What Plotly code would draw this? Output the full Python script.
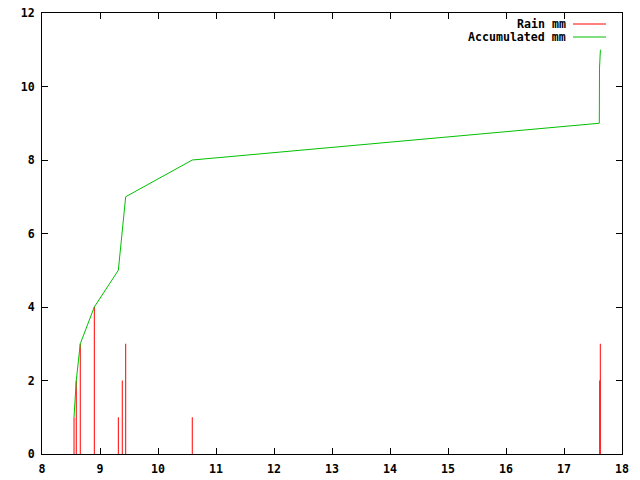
import plotly.graph_objects as go

# rain readings (impulses)
rain_hours = [8.552, 8.591, 8.660, 8.902, 9.316, 9.384, 9.443, 10.591, 17.616, 17.626]
rain_mm = [1, 2, 3, 4, 1, 2, 3, 1, 2, 3]

# accumulated rain
acc_hours = [8.552, 8.591, 8.660, 8.902, 9.316, 9.384, 9.443, 10.591, 17.609, 17.612, 17.628]
acc_mm = [1, 2, 3, 4, 5, 6, 7, 8, 9, 10.5, 11]

x_ticks = list(range(8, 19))
y_ticks = list(range(0, 13, 2))

# impulses: one vertical segment per reading
imp_x, imp_y = [], []
for h, v in zip(rain_hours, rain_mm):
    imp_x += [h, h, None]
    imp_y += [0, v, None]

fig = go.Figure()
fig.add_trace(go.Scatter(x=imp_x, y=imp_y, mode="lines", name="Rain mm",
                         line=dict(color="#ff0000", width=1), showlegend=False))
fig.add_trace(go.Scatter(x=acc_hours, y=acc_mm, mode="lines", name="Accumulated mm",
                         line=dict(color="#00c000", width=1), showlegend=False))

font = dict(family="DejaVu Sans Mono", size=11.6, color="black", weight="bold")
axis = dict(showgrid=False, zeroline=False, showline=True, mirror="allticks",
            linecolor="black", linewidth=1, ticks="inside", ticklen=6,
            tickcolor="black", tickfont=font, automargin=False)

fig.update_layout(
    width=640, height=480,
    margin=dict(l=42, r=18, t=13, b=26),
    plot_bgcolor="white", paper_bgcolor="white",
    xaxis=dict(range=[8, 18], tickvals=x_ticks, ticklabelstandoff=4, **axis),
    yaxis=dict(range=[0, 12], tickvals=y_ticks, ticklabelstandoff=4, **axis),
)

# gnuplot style key: text right-aligned, line sample on the right
names = ["Rain mm", "Accumulated mm"]
colors = ["#ff0000", "#00c000"]
for i, (n, c) in enumerate(zip(names, colors)):
    yk = 24 + 13 * i
    yp = 1 - (yk - 13) / 441
    fig.add_annotation(x=(567 - 42) / 580, y=yp, xref="paper", yref="paper",
                       text=n, showarrow=False, xanchor="right",
                       yanchor="middle", font=font, borderpad=0)
    fig.add_shape(type="line", xref="paper", yref="paper",
                  x0=(573 - 42) / 580, x1=(606 - 42) / 580, y0=yp, y1=yp,
                  line=dict(color=c, width=1))

fig.write_html("out.html", config={"displayModeBar": False})

# drop the default page margin so the figure sits at the window corner
with open("out.html") as f:
    html = f.read()
html = html.replace("<head>", "<head><style>body{margin:0}</style>", 1)
with open("out.html", "w") as f:
    f.write(html)
